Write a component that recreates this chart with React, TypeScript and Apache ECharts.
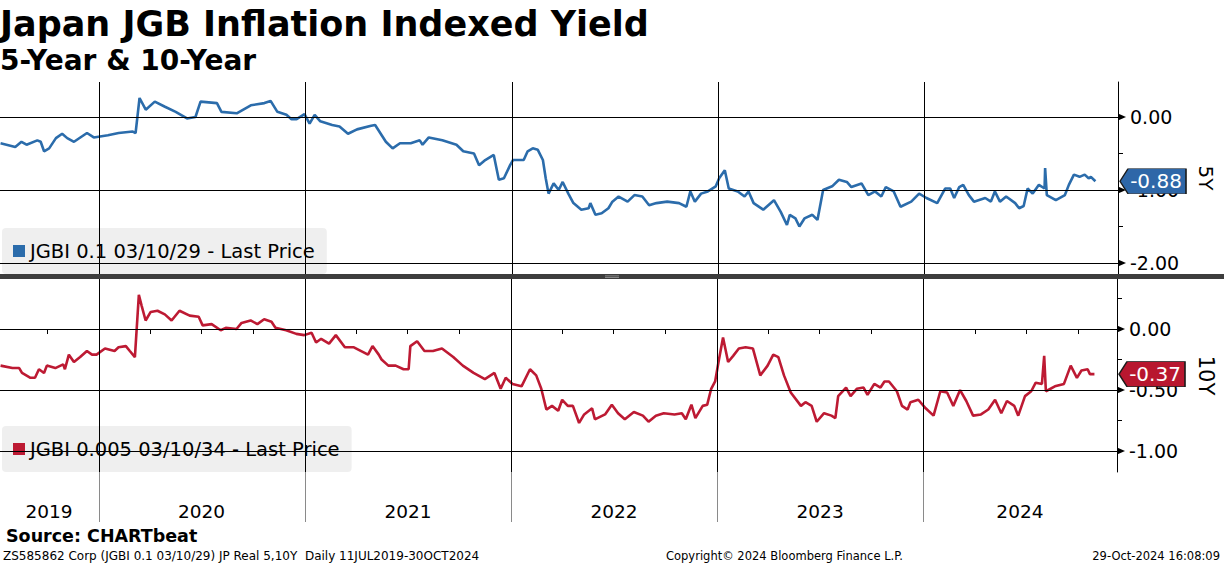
import React, { useEffect, useRef } from "react";
import * as echarts from "echarts";

const FONT = '"DejaVu Sans", Verdana, sans-serif';

const title = "Japan JGB Inflation Indexed Yield";
const subtitle = "5-Year & 10-Year";
const name5Y = "JGBI 0.1 03/10/29 - Last Price";
const name10Y = "JGBI 0.005 03/10/34 - Last Price";
const axisName5Y = "5Y";
const axisName10Y = "10Y";

const axisStart = "2019-07-10";
const axisEnd = "2024-12-09";

const dates5Y = [
  "2019-07-11","2019-08-06","2019-08-17","2019-08-26","2019-09-14","2019-09-20","2019-09-26","2019-10-05","2019-10-17","2019-10-28",
  "2019-11-06","2019-11-18","2019-12-11","2019-12-23","2020-01-17","2020-02-05","2020-03-01","2020-03-06","2020-03-13","2020-03-24",
  "2020-04-09","2020-04-27","2020-05-16","2020-06-05","2020-06-20","2020-06-29","2020-07-28","2020-08-05","2020-09-01","2020-09-26",
  "2020-10-20","2020-10-31","2020-11-12","2020-11-28","2020-12-07","2020-12-16","2020-12-30","2021-01-08","2021-01-17","2021-01-27",
  "2021-02-17","2021-03-02","2021-03-17","2021-04-02","2021-04-27","2021-05-04","2021-05-23","2021-06-04","2021-06-17","2021-07-06",
  "2021-07-22","2021-07-27","2021-08-07","2021-08-31","2021-09-25","2021-10-07","2021-10-26","2021-11-04","2021-11-15","2021-11-30",
  "2021-12-09","2021-12-18","2021-12-29","2022-01-03","2022-01-22","2022-01-29","2022-02-07","2022-02-16","2022-02-25","2022-03-02",
  "2022-03-07","2022-03-16","2022-03-25","2022-04-01","2022-04-11","2022-04-20","2022-05-04","2022-05-17","2022-05-20","2022-05-29",
  "2022-06-09","2022-06-21","2022-06-28","2022-07-09","2022-07-25","2022-08-06","2022-08-20","2022-09-01","2022-09-14","2022-10-03",
  "2022-10-24","2022-11-06","2022-11-13","2022-11-21","2022-12-02","2022-12-14","2022-12-28","2023-01-03","2023-01-13","2023-01-20",
  "2023-02-05","2023-02-17","2023-02-24","2023-03-05","2023-03-22","2023-04-10","2023-04-22","2023-05-03","2023-05-08","2023-05-18",
  "2023-05-25","2023-06-03","2023-06-17","2023-06-26","2023-07-06","2023-07-22","2023-08-03","2023-08-17","2023-08-25","2023-09-12",
  "2023-09-24","2023-10-06","2023-10-17","2023-10-25","2023-11-08","2023-11-20","2023-12-09","2023-12-23","2024-01-05","2024-01-24",
  "2024-02-07","2024-02-16","2024-02-23","2024-03-03","2024-03-10","2024-03-20","2024-03-29","2024-04-18","2024-04-28","2024-05-05",
  "2024-05-14","2024-05-25","2024-06-10","2024-06-17","2024-06-25","2024-07-02","2024-07-11","2024-07-22","2024-08-01","2024-08-02",
  "2024-08-05","2024-08-21","2024-09-06","2024-09-13","2024-09-22","2024-10-02","2024-10-11","2024-10-18","2024-10-22","2024-10-30"
];
const values5Y = [
  -0.36,-0.41,-0.34,-0.38,-0.32,-0.34,-0.47,-0.43,-0.29,-0.23,
  -0.29,-0.34,-0.22,-0.28,-0.25,-0.22,-0.20,-0.22,0.26,0.10,
  0.21,0.14,0.07,-0.02,0.00,0.21,0.19,0.07,0.05,0.16,
  0.19,0.22,0.07,0.03,-0.03,-0.03,0.04,-0.09,0.03,-0.06,
  -0.11,-0.13,-0.23,-0.17,-0.12,-0.11,-0.34,-0.43,-0.36,-0.36,
  -0.32,-0.38,-0.28,-0.32,-0.38,-0.47,-0.50,-0.66,-0.59,-0.52,
  -0.86,-0.84,-0.66,-0.59,-0.59,-0.47,-0.43,-0.45,-0.59,-0.84,
  -1.05,-0.91,-1.00,-0.89,-1.05,-1.18,-1.27,-1.25,-1.18,-1.34,
  -1.32,-1.25,-1.16,-1.09,-1.16,-1.07,-1.09,-1.21,-1.18,-1.16,
  -1.18,-1.23,-1.02,-1.16,-1.05,-1.02,-0.95,-0.84,-0.73,-0.98,
  -1.02,-1.09,-1.02,-1.18,-1.27,-1.14,-1.30,-1.48,-1.34,-1.39,
  -1.50,-1.39,-1.34,-1.41,-1.00,-0.95,-0.86,-0.89,-0.96,-0.91,
  -1.07,-1.02,-1.09,-0.96,-1.02,-1.23,-1.16,-1.05,-1.11,-1.18,
  -0.98,-0.98,-1.11,-0.96,-0.93,-1.07,-1.16,-1.11,-1.16,-1.02,
  -1.16,-1.09,-1.18,-1.25,-1.22,-0.98,-1.05,-0.93,-0.98,-0.70,
  -1.07,-1.14,-1.07,-0.93,-0.79,-0.82,-0.79,-0.84,-0.82,-0.88
];

const dates10Y = [
  "2019-07-11","2019-08-01","2019-08-13","2019-08-18","2019-09-02","2019-09-10","2019-09-17","2019-09-26","2019-10-01","2019-10-16",
  "2019-10-30","2019-11-02","2019-11-09","2019-11-18","2019-11-29","2019-12-11","2019-12-20","2019-12-28","2020-01-12","2020-01-29",
  "2020-02-05","2020-02-18","2020-02-25","2020-03-05","2020-03-12","2020-03-17","2020-03-24","2020-04-02","2020-04-14","2020-04-27",
  "2020-05-09","2020-05-23","2020-06-10","2020-06-26","2020-07-03","2020-07-19","2020-08-04","2020-08-13","2020-09-01","2020-09-10",
  "2020-09-26","2020-10-08","2020-10-20","2020-11-02","2020-11-09","2020-11-28","2020-12-16","2020-12-30","2021-01-12","2021-01-20",
  "2021-01-29","2021-02-12","2021-02-24","2021-03-12","2021-03-28","2021-04-22","2021-04-30","2021-05-11","2021-05-16","2021-05-28",
  "2021-06-10","2021-06-24","2021-07-03","2021-07-06","2021-07-18","2021-07-31","2021-08-15","2021-08-31","2021-09-20","2021-10-07",
  "2021-10-26","2021-11-15","2021-12-02","2021-12-13","2021-12-22","2022-01-03","2022-01-19","2022-02-03","2022-02-14","2022-02-23",
  "2022-03-04","2022-03-14","2022-03-25","2022-04-01","2022-04-11","2022-04-20","2022-05-01","2022-05-10","2022-05-24","2022-05-29",
  "2022-06-16","2022-06-28","2022-07-09","2022-07-21","2022-08-06","2022-08-22","2022-09-01","2022-09-14","2022-09-28","2022-10-17",
  "2022-10-30","2022-11-06","2022-11-16","2022-11-23","2022-12-06","2022-12-14","2022-12-21","2022-12-28","2023-01-03","2023-01-11",
  "2023-01-20","2023-01-29","2023-02-08","2023-02-20","2023-03-05","2023-03-18","2023-03-31","2023-04-10","2023-04-19","2023-04-29",
  "2023-05-11","2023-05-29","2023-06-06","2023-06-17","2023-06-26","2023-07-09","2023-07-22","2023-07-29","2023-08-03","2023-08-17",
  "2023-08-25","2023-09-05","2023-09-17","2023-09-24","2023-10-06","2023-10-17","2023-10-24","2023-11-01","2023-11-15","2023-11-24",
  "2023-12-04","2023-12-09","2023-12-23","2024-01-05","2024-01-19","2024-01-31","2024-02-12","2024-02-23","2024-03-06","2024-03-17",
  "2024-03-29","2024-04-12","2024-04-25","2024-05-07","2024-05-18","2024-05-28","2024-06-10","2024-06-17","2024-06-29","2024-07-10",
  "2024-07-18","2024-07-29","2024-08-02","2024-08-05","2024-08-21","2024-09-06","2024-09-18","2024-09-29","2024-10-07","2024-10-18",
  "2024-10-22","2024-10-30"
];
const values10Y = [
  -0.30,-0.32,-0.32,-0.36,-0.40,-0.40,-0.33,-0.36,-0.30,-0.32,
  -0.29,-0.33,-0.21,-0.27,-0.23,-0.18,-0.21,-0.21,-0.16,-0.18,
  -0.15,-0.14,-0.18,-0.23,0.28,0.19,0.07,0.14,0.15,0.12,
  0.07,0.15,0.11,0.10,0.03,0.04,-0.01,0.01,0.00,0.05,
  0.07,0.04,0.08,0.06,0.01,-0.01,-0.04,-0.05,-0.03,-0.11,
  -0.08,-0.12,-0.05,-0.15,-0.15,-0.21,-0.14,-0.21,-0.25,-0.30,
  -0.30,-0.33,-0.33,-0.14,-0.10,-0.18,-0.18,-0.16,-0.23,-0.30,
  -0.36,-0.41,-0.36,-0.49,-0.40,-0.45,-0.47,-0.33,-0.38,-0.49,
  -0.66,-0.63,-0.67,-0.58,-0.63,-0.63,-0.77,-0.70,-0.65,-0.74,
  -0.70,-0.62,-0.69,-0.74,-0.68,-0.71,-0.76,-0.71,-0.69,-0.70,
  -0.69,-0.74,-0.62,-0.73,-0.63,-0.62,-0.49,-0.43,-0.27,-0.07,
  -0.27,-0.22,-0.16,-0.15,-0.16,-0.38,-0.30,-0.21,-0.23,-0.38,
  -0.52,-0.63,-0.60,-0.63,-0.76,-0.69,-0.71,-0.73,-0.55,-0.48,
  -0.55,-0.49,-0.48,-0.54,-0.45,-0.48,-0.43,-0.43,-0.51,-0.63,
  -0.66,-0.60,-0.58,-0.65,-0.71,-0.51,-0.52,-0.63,-0.50,-0.59,
  -0.71,-0.70,-0.66,-0.58,-0.69,-0.59,-0.63,-0.71,-0.55,-0.51,
  -0.44,-0.45,-0.22,-0.51,-0.47,-0.45,-0.30,-0.40,-0.34,-0.33,
  -0.37,-0.37
];

const yearStarts = ["2020-01-01", "2021-01-01", "2022-01-01", "2023-01-01", "2024-01-01"];
const quarterStarts = [
  "2019-10-01",
  "2020-01-01","2020-04-01","2020-07-01","2020-10-01",
  "2021-01-01","2021-04-01","2021-07-01","2021-10-01",
  "2022-01-01","2022-04-01","2022-07-01","2022-10-01",
  "2023-01-01","2023-04-01","2023-07-01","2023-10-01",
  "2024-01-01","2024-04-01","2024-07-01","2024-10-01"
];
const yearLabelDates = ["2019-10-05", "2020-07-01", "2021-07-02", "2022-07-02", "2023-07-02", "2024-06-20"];

const labels5Y = [0, -1, -2];
const ticks5Y = [0, -0.5, -1, -1.5, -2];
const labels10Y = [0, -0.5, -1];
const ticks10Y = [0.25, 0, -0.25, -0.5, -0.75, -1];

const footSource = "Source: CHARTbeat";
const footLeft = "ZS585862 Corp (JGBI 0.1 03/10/29) JP Real 5,10Y  Daily 11JUL2019-30OCT2024";
const footMid = "Copyright\u00A9 2024 Bloomberg Finance L.P.";
const footRight = "29-Oct-2024 16:08:09";

const BLUE = "#2b6cab";
const BLUE_TAG = "#2e67a8";
const RED = "#bd1a33";
const RED_TAG = "#b8172f";

function ts(s: string): number {
  const [y, m, d] = s.split("-").map(Number);
  return Date.UTC(y, m - 1, d);
}

const TAG_PATH = "path://M0,12.5L8,0L66,0L66,25L8,25Z";

function gridSeries(xi: number, yi: number, labels: number[]) {
  return {
    type: "line",
    xAxisIndex: xi,
    yAxisIndex: yi,
    data: [],
    z: 1,
    silent: true,
    markLine: {
      silent: true,
      symbol: ["none", "none"],
      label: { show: false },
      emphasis: { disabled: true },
      lineStyle: { color: "#000", width: 1, type: "solid" },
      data: [
        ...labels.map((v) => ({ yAxis: v })),
        ...yearStarts.map((d) => ({ xAxis: ts(d) })),
      ],
    },
    markPoint: {
      silent: true,
      symbol: "triangle",
      symbolSize: [7, 8],
      symbolRotate: -90,
      symbolOffset: [4, 0],
      label: { show: false },
      itemStyle: { color: "#000" },
      data: labels.map((v) => ({ coord: [ts(axisEnd), v] })),
    },
  };
}

function dataSeries(name: string, xi: number, yi: number, dates: string[], values: number[], color: string, tagColor: string) {
  const last = values[values.length - 1];
  return {
    name,
    type: "line",
    xAxisIndex: xi,
    yAxisIndex: yi,
    data: dates.map((d, i) => [ts(d), values[i]]),
    showSymbol: false,
    symbol: "none",
    z: 3,
    lineStyle: { color, width: 2.6 },
    itemStyle: { color },
    markPoint: {
      silent: true,
      symbol: TAG_PATH,
      symbolSize: [66, 25],
      symbolKeepAspect: false,
      z: 10,
      data: [
        {
          coord: [ts(axisEnd), last],
          symbolOffset: [35, 0],
          itemStyle: { color: tagColor, borderColor: "#1a1a1a", borderWidth: 1 },
          label: {
            show: true,
            formatter: last.toFixed(2),
            color: "#fff",
            fontSize: 20,
            fontFamily: FONT,
            offset: [3, 0],
          },
        },
      ],
    },
  };
}

function legendOf(name: string, top: number) {
  return {
    data: [name],
    left: 2,
    top,
    orient: "horizontal",
    icon: "rect",
    itemWidth: 12,
    itemHeight: 12,
    selectedMode: false,
    backgroundColor: "rgba(236,236,236,0.82)",
    borderRadius: 4,
    padding: [13, 12, 13, 11],
    textStyle: { fontSize: 19.5, color: "#000", fontFamily: FONT },
  };
}

export default function App() {
  const ref = useRef<HTMLDivElement>(null);

  useEffect(() => {
    if (!ref.current) return;
    const chart = echarts.init(ref.current, null, { renderer: "svg" });
    const xMin = ts(axisStart);
    const xMax = ts(axisEnd);

    const option: any = {
      animation: false,
      backgroundColor: "#fff",
      textStyle: { fontFamily: FONT },
      grid: [
        { left: 0, right: 99, top: 82, height: 192, containLabel: false },
        { left: 0, right: 99, top: 279, height: 193, containLabel: false },
      ],
      legend: [legendOf(name5Y, 228), legendOf(name10Y, 426)],
      xAxis: [
        { gridIndex: 0, type: "value", min: xMin, max: xMax, show: false, splitLine: { show: false } },
        {
          gridIndex: 1,
          type: "value",
          min: xMin,
          max: xMax,
          position: "bottom",
          offset: 0,
          axisLine: { show: true, lineStyle: { color: "#000", width: 1 } },
          axisTick: { show: true, customValues: quarterStarts.map(ts), length: 5, lineStyle: { color: "#000" } },
          axisLabel: { show: false },
          splitLine: { show: false },
        },
        {
          gridIndex: 1,
          type: "value",
          min: xMin,
          max: xMax,
          position: "bottom",
          offset: 0,
          axisLine: { show: false },
          axisTick: { show: true, customValues: yearStarts.map(ts), length: 50, lineStyle: { color: "#8a8a8a", width: 1 } },
          axisLabel: {
            show: true,
            customValues: yearLabelDates.map(ts),
            formatter: (v: number) => String(new Date(v).getUTCFullYear()),
            fontSize: 18.5,
            color: "#000",
            fontFamily: FONT,
            margin: 30,
          },
          splitLine: { show: false },
        },
      ],
      yAxis: [
        {
          gridIndex: 0,
          type: "value",
          position: "right",
          min: -2.151,
          max: 0.479,
          splitLine: { show: false },
          axisLine: { show: true, lineStyle: { color: "#000", width: 1 } },
          axisTick: { show: true, customValues: ticks5Y, length: 5, lineStyle: { color: "#000" } },
          axisLabel: {
            customValues: labels5Y,
            formatter: (v: number) => v.toFixed(2),
            fontSize: 19,
            color: "#000",
            fontFamily: FONT,
            margin: 12,
          },
          name: axisName5Y,
          nameLocation: "middle",
          nameRotate: -90,
          nameGap: 78,
          nameTextStyle: { fontSize: 20, color: "#000", fontFamily: FONT },
        },
        {
          gridIndex: 1,
          type: "value",
          position: "right",
          min: -1.172,
          max: 0.41,
          splitLine: { show: false },
          axisLine: { show: true, lineStyle: { color: "#000", width: 1 } },
          axisTick: { show: true, customValues: ticks10Y, length: 5, lineStyle: { color: "#000" } },
          axisLabel: {
            customValues: labels10Y,
            formatter: (v: number) => v.toFixed(2),
            fontSize: 19,
            color: "#000",
            fontFamily: FONT,
            margin: 12,
          },
          name: axisName10Y,
          nameLocation: "middle",
          nameRotate: -90,
          nameGap: 78,
          nameTextStyle: { fontSize: 21, color: "#000", fontFamily: FONT },
        },
      ],
      series: [
        gridSeries(0, 0, labels5Y),
        gridSeries(1, 1, labels10Y),
        dataSeries(name5Y, 0, 0, dates5Y, values5Y, BLUE, BLUE_TAG),
        dataSeries(name10Y, 1, 1, dates10Y, values10Y, RED, RED_TAG),
      ],
      graphic: [
        {
          type: "text",
          x: 0,
          y: 24,
          style: { text: title, fill: "#000", font: `bold 35px ${FONT}`, verticalAlign: "middle" },
        },
        {
          type: "text",
          x: 0,
          y: 60,
          style: { text: subtitle, fill: "#000", font: `bold 28px ${FONT}`, verticalAlign: "middle" },
        },
        {
          type: "rect",
          shape: { x: 0, y: 274, width: 1224, height: 5 },
          style: { fill: "#3d3d3d" },
          z: 20,
        },
        {
          type: "rect",
          shape: { x: 605, y: 275.5, width: 14, height: 0.8 },
          style: { fill: "#9a9a9a" },
          z: 21,
        },
        {
          type: "rect",
          shape: { x: 605, y: 277.2, width: 14, height: 0.8 },
          style: { fill: "#9a9a9a" },
          z: 21,
        },
        {
          type: "text",
          x: 6,
          y: 536,
          style: { text: footSource, fill: "#000", font: `bold 17.5px ${FONT}`, verticalAlign: "middle" },
        },
        {
          type: "text",
          x: 3,
          y: 556,
          style: { text: footLeft, fill: "#000", font: `12px ${FONT}`, verticalAlign: "middle" },
        },
        {
          type: "text",
          x: 666,
          y: 556,
          style: { text: footMid, fill: "#000", font: `11.5px ${FONT}`, verticalAlign: "middle" },
        },
        {
          type: "text",
          x: 1220,
          y: 556,
          style: { text: footRight, fill: "#000", font: `11.5px ${FONT}`, verticalAlign: "middle", align: "right" },
        },
      ],
    };

    chart.setOption(option);
    return () => {
      chart.dispose();
    };
  }, []);

  return (
    <div
      ref={ref}
      style={{ position: "fixed", left: 0, top: 0, width: 1224, height: 566, background: "#fff" }}
    />
  );
}
